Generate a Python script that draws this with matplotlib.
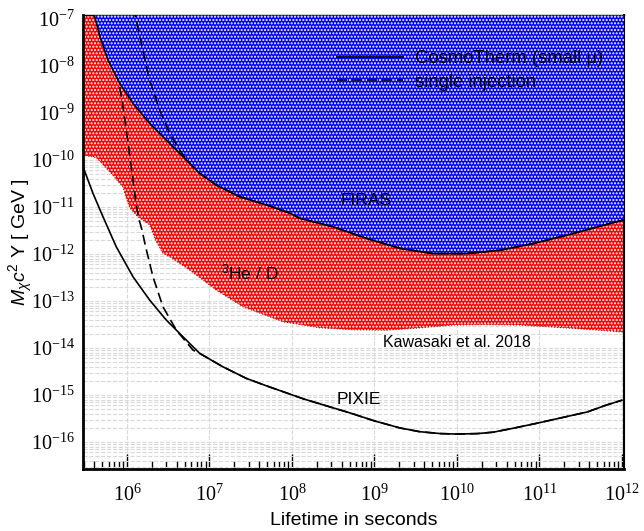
import numpy as np
import matplotlib
matplotlib.use("Agg")
import matplotlib.pyplot as plt
from matplotlib.lines import Line2D
from matplotlib import ticker

plt.rcParams['font.family'] = ['Liberation Sans', 'DejaVu Sans']
plt.rcParams['mathtext.fontset'] = 'custom'
plt.rcParams['mathtext.rm'] = 'Liberation Sans'
plt.rcParams['mathtext.it'] = 'Liberation Sans:italic'
plt.rcParams['hatch.linewidth'] = 1.0

# values (log10 of lifetime in s / log10 of M c^2 Y in GeV)
firas_t = [5.55, 5.604, 5.673, 5.770, 5.912, 6.073, 6.275, 6.476, 6.679, 6.881, 7.082, 7.366, 7.70,
           7.976, 8.097, 8.497, 8.909, 9.309, 9.709, 10.12, 10.52, 10.92, 11.33, 11.73, 12.03]
firas_y = [-6.70, -6.915, -7.38, -7.872, -8.368, -8.794, -9.219, -9.574, -9.930, -10.283, -10.532, -10.781,
           -10.96, -11.13, -11.24, -11.42, -11.67, -11.88, -11.99, -11.99, -11.92, -11.78, -11.60, -11.41, -11.27]

firas_single_t = [6.08, 6.097, 6.185, 6.275, 6.396, 6.518, 6.639, 6.760, 6.84, 6.881, 7.082, 7.366, 7.70,
                  7.976, 8.097, 8.497, 8.909, 9.309, 9.709, 10.12, 10.52, 10.92, 11.33, 11.73, 12.03]
firas_single_y = [-6.75, -6.915, -7.60, -8.298, -8.936, -9.432, -9.787, -10.07, -10.21, -10.283, -10.532,
                  -10.781, -10.96, -11.13, -11.24, -11.42, -11.67, -11.88, -11.99, -11.99, -11.92, -11.78,
                  -11.60, -11.41, -11.27]

he_t = [5.46, 5.628, 5.806, 5.952, 5.992, 6.036, 6.133, 6.279, 6.345, 6.436, 6.518, 6.760, 7.082, 7.406,
        7.891, 8.34, 8.75, 9.15, 9.55, 9.95, 10.35, 10.76, 11.4, 12.03]
he_y = [-9.894, -9.947, -10.277, -10.574, -10.81, -11.02, -11.206, -11.383, -11.70, -11.985, -12.057, -12.34,
        -12.766, -13.121, -13.44, -13.57, -13.61, -13.62, -13.57, -13.51, -13.50, -13.51, -13.58, -13.66]

pixie_t = [5.467, 5.588, 5.709, 5.870, 6.073, 6.275, 6.476, 6.679, 6.881, 7.164, 7.446, 7.70, 8.137, 8.40,
           8.703, 9.0, 9.309, 9.55, 9.80, 10.0, 10.25, 10.44, 10.70, 10.97, 11.30, 11.58, 11.80, 12.0]
pixie_y = [-10.143, -10.709, -11.206, -11.845, -12.483, -12.979, -13.404, -13.76, -14.113, -14.40, -14.645,
           -14.81, -15.08, -15.22, -15.38, -15.55, -15.70, -15.78, -15.82, -15.83, -15.82, -15.79, -15.70,
           -15.60, -15.47, -15.36, -15.22, -15.11]

pixie_single_t = [5.912, 5.952, 5.992, 6.033, 6.073, 6.109, 6.145, 6.182, 6.224, 6.315, 6.436, 6.598, 6.80,
                  6.881, 7.164, 7.446, 7.70, 8.137, 8.40, 8.703, 9.0, 9.309, 9.55, 9.80, 10.0, 10.25, 10.44,
                  10.70, 10.97, 11.30, 11.58, 11.80, 12.0]
pixie_single_y = [-8.440, -8.866, -9.362, -9.894, -10.426, -10.915, -11.255, -11.489, -11.830, -12.483,
                  -13.121, -13.617, -14.043, -14.113, -14.40, -14.645, -14.81, -15.08, -15.22, -15.38, -15.55,
                  -15.70, -15.78, -15.82, -15.83, -15.82, -15.79, -15.70, -15.60, -15.47, -15.36, -15.22, -15.11]

xtick_exp = [6, 7, 8, 9, 10, 11, 12]
ytick_exp = [-16, -15, -14, -13, -12, -11, -10, -9, -8, -7]

xmin, xmax = 2.93e5, 1.06e12
ymin, ymax = 2.67e-17, 1.22e-7


def p10(v):
    return 10.0 ** np.array(v, dtype=float)


fig = plt.figure(figsize=(6.44, 5.31), dpi=100)
ax = fig.add_axes([83 / 644, 62 / 531, 541 / 644, 454 / 531])
ax.set_xscale('log')
ax.set_yscale('log')
ax.set_xlim(xmin, xmax)
ax.set_ylim(ymin, ymax)

# excluded regions
ax.fill_between(p10(he_t), p10(he_y), ymax, facecolor='#ff0000', edgecolor='white',
                hatch='.....', linewidth=0, zorder=2)
ax.plot(p10(he_t), p10(he_y), ls=':', color='#7a2020', lw=0.8, zorder=2)
ax.fill_between(p10(firas_t), p10(firas_y), ymax, facecolor='#0000ff', edgecolor='white',
                hatch='.....', linewidth=0, zorder=3)

dash = (0, (6, 3))
ax.plot(p10(firas_t), p10(firas_y), color='black', lw=1.2, zorder=4)
ax.plot(p10(firas_single_t), p10(firas_single_y), color='black', lw=1.2, ls=dash, zorder=4)
ax.plot(p10(pixie_t), p10(pixie_y), color='black', lw=1.2, zorder=4)
ax.plot(p10(pixie_single_t), p10(pixie_single_y), color='black', lw=1.2, ls=dash, zorder=4)

ax.grid(True, which='major', axis='x', ls='--', color='#d9d9d9', lw=0.8, zorder=0)
ax.grid(True, which='both', axis='y', ls='--', color='#d9d9d9', lw=0.8, zorder=0)
ax.set_axisbelow(True)

ax.text(7.9e8, 1.4e-11, 'FIRAS', fontsize=12.5, ha='center', va='center', zorder=5)
ax.text(3.1e7, 4.0e-13, r'$^{3}$He / D', fontsize=12.5, ha='center', va='center', zorder=5)
ax.text(1.0e10, 1.3e-14, 'Kawasaki et al. 2018', fontsize=11.5, ha='center', va='center', zorder=5)
ax.text(6.5e8, 8.0e-16, 'PIXIE', fontsize=12.5, ha='center', va='center', zorder=5)

handles = [Line2D([], [], color='black', lw=1.2),
           Line2D([], [], color='black', lw=1.2, ls=dash)]
leg = ax.legend(handles, ['CosmoTherm (small \u03bc)', 'single injection'], loc='upper left',
                bbox_to_anchor=(0.469, 0.922), frameon=False, fontsize=13.3, handlelength=3.6,
                handletextpad=0.65, labelspacing=0.35, borderpad=0, borderaxespad=0)
leg.set_zorder(6)

ax.set_xlabel('Lifetime in seconds', fontsize=14, labelpad=5)
ax.set_ylabel(r'$M_{\chi}c^{2}$ Y [ GeV ]', fontsize=14)
ax.yaxis.set_label_coords(-0.089, 0.5)

ax.xaxis.set_major_locator(ticker.FixedLocator(p10(xtick_exp)))
ax.xaxis.set_minor_locator(ticker.LogLocator(base=10, subs=np.arange(2, 10), numticks=20))
ax.xaxis.set_minor_formatter(ticker.NullFormatter())
ax.yaxis.set_major_locator(ticker.FixedLocator(p10(ytick_exp)))
ax.yaxis.set_minor_locator(ticker.LogLocator(base=10, subs=np.arange(2, 10), numticks=20))
ax.yaxis.set_minor_formatter(ticker.NullFormatter())
ax.xaxis.set_major_formatter(ticker.LogFormatterSciNotation())
ax.yaxis.set_major_formatter(ticker.LogFormatterSciNotation())

ax.tick_params(axis='x', which='major', direction='in', length=11, width=1, pad=11,
               labelsize=14.5, labelfontfamily='Liberation Serif', top=False)
ax.tick_params(axis='x', which='minor', direction='in', length=6, width=1, top=False)
ax.tick_params(axis='y', which='both', length=0, pad=6, labelsize=14.5,
               labelfontfamily='Liberation Serif', right=False)

ax.spines['left'].set_linewidth(2)
ax.spines['bottom'].set_linewidth(2)
ax.spines['top'].set_linewidth(1)
ax.spines['right'].set_linewidth(1.5)

fig.savefig('out.png', dpi=100)
